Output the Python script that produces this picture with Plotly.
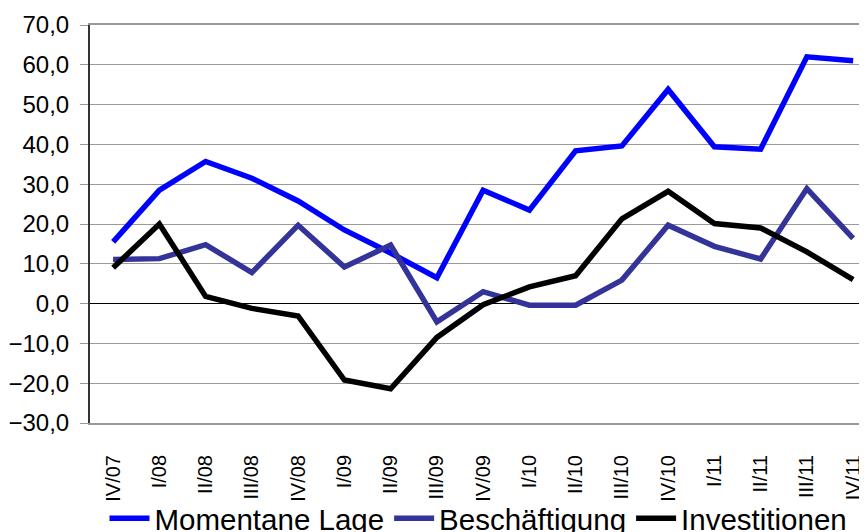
import plotly.graph_objects as go

categories = ["IV/07", "I/08", "II/08", "III/08", "IV/08", "I/09", "II/09", "III/09",
              "IV/09", "I/10", "II/10", "III/10", "IV/10", "I/11", "II/11", "III/11", "IV/11"]
momentane_lage = [15.5, 28.5, 35.7, 31.5, 25.8, 18.5, 12.7, 6.5, 28.5, 23.5, 38.4, 39.6, 53.8, 39.4, 38.8, 62.0, 61.0]
beschaeftigung = [11.1, 11.3, 14.8, 7.8, 19.7, 9.2, 14.7, -4.6, 3.0, -0.4, -0.4, 5.9, 19.7, 14.4, 11.2, 28.9, 16.4]
investitionen = [9.0, 20.0, 1.8, -1.2, -3.1, -19.2, -21.4, -8.5, -0.3, 4.2, 7.0, 21.3, 28.2, 20.1, 19.0, 13.0, 6.0]

series = [
    ("Momentane Lage", momentane_lage, "#0000FF"),
    ("Beschäftigung", beschaeftigung, "#333399"),
    ("Investitionen", investitionen, "#000000"),
]

font_family = "Arial, Liberation Sans, sans-serif"

fig = go.Figure()
for name, vals, color in series:
    fig.add_trace(go.Scatter(
        x=list(range(len(categories))), y=vals, name=name, mode="lines",
        line=dict(color=color, width=5.5),
    ))

# page body has an 8px margin, so the figure is sized to fit the 867x532 window
fig.update_layout(
    width=859, height=524,
    margin=dict(l=82, r=0, t=17, b=109, autoexpand=False),
    paper_bgcolor="white", plot_bgcolor="white",
    separators=",.",
    font=dict(family=font_family, color="black"),
    showlegend=True,
    legend=dict(orientation="h", x=0.5, xanchor="center", y=-0.175, yanchor="top",
                font=dict(size=29.5, family=font_family), itemwidth=40,
                tracegroupgap=0, bgcolor="rgba(0,0,0,0)"),
)

fig.update_xaxes(
    automargin=False,
    range=[-0.5, 16.3],
    tickmode="array", tickvals=list(range(len(categories))), ticktext=categories,
    tickangle=-90, tickfont=dict(size=20, family=font_family),
    ticks="outside", ticklen=22, tickcolor="rgba(0,0,0,0)",
    showgrid=False, zeroline=False,
    showline=True, linecolor="#999999", linewidth=2, mirror=True,
)
fig.update_yaxes(
    automargin=False,
    range=[-30, 70], dtick=10, tickformat=".1f",
    tickfont=dict(size=24, family=font_family),
    showgrid=True, gridcolor="#9a9a9a", gridwidth=1,
    zeroline=True, zerolinecolor="black", zerolinewidth=1,
    showline=True, linecolor="#333333", linewidth=2,
    ticks="outside", ticklen=8, tickcolor="#999999",
    ticklabelstandoff=6,
)

fig.write_html("out.html")
